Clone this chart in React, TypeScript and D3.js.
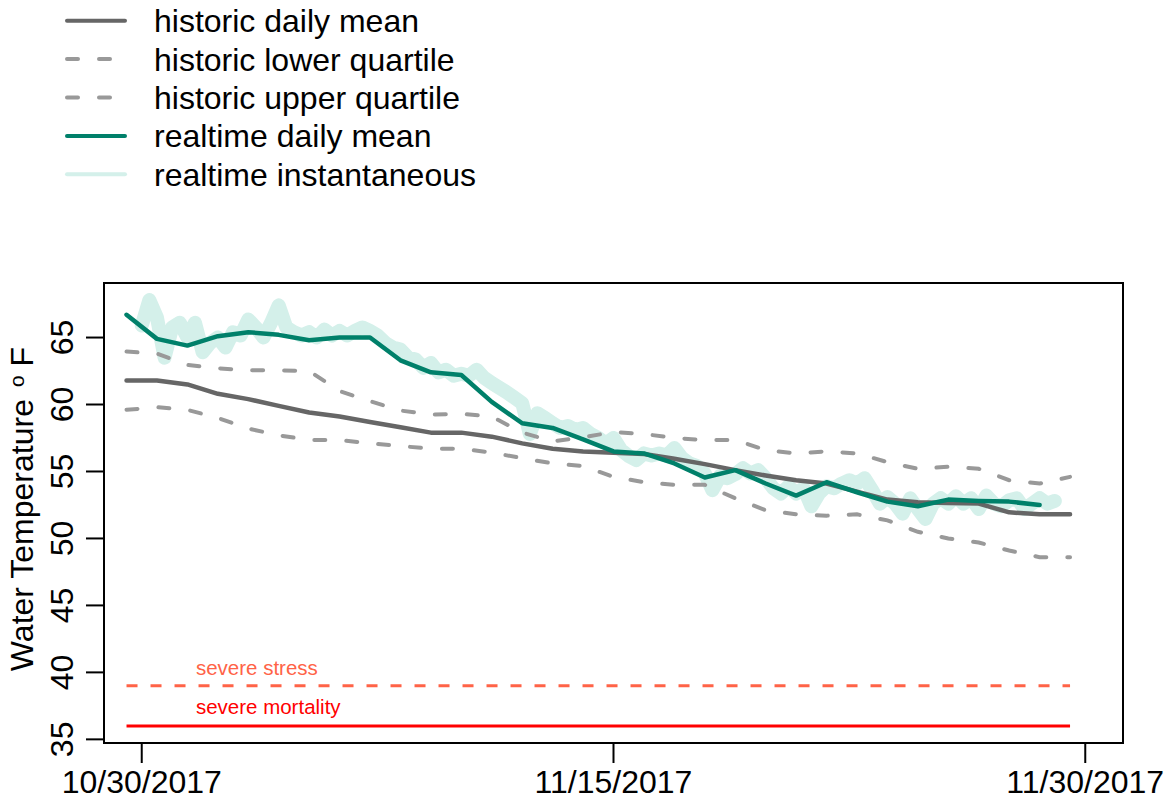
import React from "react";
import * as d3 from "d3";

// ---- data (day index: 0 = first historic day) ----
const historicMean = [61.8, 61.8, 61.5, 60.8, 60.4, 59.9, 59.4, 59.1, 58.7, 58.3, 57.9, 57.9, 57.6, 57.1, 56.7, 56.5, 56.4, 56.3, 55.95, 55.55, 55.1, 54.7, 54.35, 54.1, 53.5, 52.9, 52.7, 52.65, 52.6, 51.95, 51.8, 51.8];
const historicLower = [59.6, 59.8, 59.6, 59.0, 58.2, 57.7, 57.35, 57.35, 57.1, 56.9, 56.7, 56.7, 56.4, 56.0, 55.6, 55.4, 54.6, 54.2, 54.0, 54.0, 53.0, 52.1, 51.8, 51.7, 51.8, 51.35, 50.5, 50.0, 49.7, 49.1, 48.6, 48.6];
const historicUpper = [63.95, 63.8, 62.95, 62.7, 62.55, 62.55, 62.5, 61.0, 60.25, 59.55, 59.25, 59.3, 59.1, 57.9, 57.25, 57.55, 57.95, 57.8, 57.5, 57.35, 57.35, 56.6, 56.35, 56.5, 56.35, 55.7, 55.2, 55.35, 55.2, 54.35, 54.1, 54.6];
const realtimeMean = [66.7, 64.9, 64.4, 65.1, 65.4, 65.2, 64.8, 65.0, 65.0, 63.3, 62.4, 62.2, 60.2, 58.6, 58.25, 57.4, 56.5, 56.35, 55.6, 54.55, 55.1, 54.1, 53.2, 54.2, 53.45, 52.75, 52.4, 52.9, 52.8, 52.75, 52.5];
// instantaneous readings every 6 hours starting at day 0.5
const instStart = 0.5;
const instStep = 0.25;
const realtimeInst = [
  65.9, 67.8, 66.5, 63.5, 65.75, 66.1, 65.0, 66.1, 63.9, 64.6,
  65.0, 64.25, 65.4, 65.15, 66.35, 65.75, 65.0, 66.1, 67.4, 65.75,
  65.4, 65.15, 65.4, 65.0, 65.6, 65.15, 65.5, 65.15, 65.5, 65.75,
  65.5, 65.15, 64.6, 64.25, 64.1, 63.5, 63.35, 62.75, 63.1, 62.4,
  62.6, 62.15, 62.3, 62.15, 62.6, 62.0, 61.6, 61.25, 60.9, 60.5,
  60.1, 57.8, 59.35, 59.0, 58.6, 58.25, 58.4, 58.1, 58.25, 57.8,
  57.5, 57.1, 57.5, 56.6, 56.15, 55.85, 56.35, 56.2, 56.35, 56.2,
  56.75, 56.0, 55.6, 55.4, 54.85, 53.6, 54.65, 54.5, 54.8, 55.25,
  54.85, 55.1, 54.5, 53.75, 53.35, 53.9, 53.35, 53.75, 52.4, 53.35,
  53.9, 53.75, 54.1, 54.35, 54.1, 54.5, 53.6, 52.6, 53.1, 52.6,
  51.85, 53.0, 52.2, 51.45, 52.6, 53.0, 52.6, 53.15, 52.6, 53.0,
  52.2, 53.2, 52.6, 52.4, 52.85, 53.0, 52.2, 52.6, 53.0, 52.6, 52.8,
];
const severeStress = 39;
const severeMortality = 36;
const xTickValues = [0.5, 16, 31.5];
const xTickLabels = ["10/30/2017", "11/15/2017", "11/30/2017"];
const yTickValues = [35, 40, 45, 50, 55, 60, 65];
const legendLabels = [
  "historic daily mean",
  "historic lower quartile",
  "historic upper quartile",
  "realtime daily mean",
  "realtime instantaneous",
];

const FONT = "'Liberation Sans', Arial, Helvetica, sans-serif";
const C_MEAN = "#666666";
const C_QUART = "#999999";
const C_RT = "#00806a";
const C_INST = "#d4f0ea";
const C_STRESS = "#ff6347";
const C_MORT = "#ff0000";
const FS = 32;

export default function App() {
  const left = 104, right = 1123, top = 283, bottom = 743;
  const xr: [number, number] = [xTickValues[0], xTickValues[xTickValues.length - 1]];
  const xpad = (xr[1] - xr[0]) * 0.04;
  const x = d3.scaleLinear().domain([xr[0] - xpad, xr[1] + xpad]).range([left, right]);
  const yr: [number, number] = [severeMortality, d3.max(realtimeInst) as number];
  const ypad = (yr[1] - yr[0]) * 0.04;
  const y = d3.scaleLinear().domain([yr[0] - ypad, yr[1] + ypad]).range([bottom, top]);

  const dayLine = d3
    .line<number>()
    .x((_, i) => x(i))
    .y((v) => y(v));
  const instLine = d3
    .line<number>()
    .x((_, i) => x(instStart + i * instStep))
    .y((v) => y(v));

  const lastDay = historicMean.length - 1;

  const legendStyles = [
    { stroke: C_MEAN, dash: undefined as string | undefined, w: 4 },
    { stroke: C_QUART, dash: "11 21", w: 4 },
    { stroke: C_QUART, dash: "11 21", w: 4 },
    { stroke: C_RT, dash: undefined, w: 4 },
    { stroke: C_INST, dash: undefined, w: 4 },
  ];

  return (
    <svg
      width={1169}
      height={800}
      style={{ position: "absolute", left: 0, top: 0, background: "#fff" }}
      fontFamily={FONT}
    >
      <rect x={0} y={0} width={1169} height={800} fill="#fff" />
      {/* legend */}
      {legendLabels.map((lab, i) => {
        const ly = 20.7 + i * 38.4;
        const s = legendStyles[i];
        return (
          <g key={lab}>
            <line
              x1={67}
              x2={125}
              y1={ly}
              y2={ly}
              stroke={s.stroke}
              strokeWidth={s.w}
              strokeDasharray={s.dash}
              strokeLinecap="round"
            />
            <text x={154} y={ly + 11.5} fontSize={FS} fill="#000">
              {lab}
            </text>
          </g>
        );
      })}

      {/* instantaneous */}
      <path
        d={instLine(realtimeInst) || ""}
        fill="none"
        stroke={C_INST}
        strokeWidth={14}
        strokeLinejoin="round"
        strokeLinecap="round"
      />
      {/* historic quartiles */}
      <path d={dayLine(historicUpper) || ""} fill="none" stroke={C_QUART} strokeWidth={4} strokeDasharray="11 21" strokeLinecap="round" />
      <path d={dayLine(historicLower) || ""} fill="none" stroke={C_QUART} strokeWidth={4} strokeDasharray="11 21" strokeLinecap="round" />
      {/* historic mean */}
      <path d={dayLine(historicMean) || ""} fill="none" stroke={C_MEAN} strokeWidth={4.5} strokeLinejoin="round" strokeLinecap="round" />
      {/* realtime mean */}
      <path d={dayLine(realtimeMean) || ""} fill="none" stroke={C_RT} strokeWidth={4.5} strokeLinejoin="round" strokeLinecap="round" />

      {/* thresholds */}
      <line x1={x(0)} x2={x(lastDay)} y1={y(severeStress)} y2={y(severeStress)} stroke={C_STRESS} strokeWidth={3} strokeDasharray="11 13" />
      <line x1={x(0)} x2={x(lastDay)} y1={y(severeMortality)} y2={y(severeMortality)} stroke={C_MORT} strokeWidth={3} />
      <text x={x(2.28)} y={y(severeStress) - 11} fontSize={20.5} fill={C_STRESS}>
        severe stress
      </text>
      <text x={x(2.28)} y={y(severeMortality) - 12} fontSize={20.5} fill={C_MORT}>
        severe mortality
      </text>

      {/* box */}
      <rect x={left} y={top} width={right - left} height={bottom - top} fill="none" stroke="#000" strokeWidth={2} />

      {/* y axis */}
      {yTickValues.map((v) => (
        <g key={v}>
          <line x1={86} x2={left} y1={y(v)} y2={y(v)} stroke="#000" strokeWidth={2} />
          <text
            transform={`translate(73,${y(v)}) rotate(-90)`}
            textAnchor="middle"
            fontSize={FS}
            fill="#000"
          >
            {v}
          </text>
        </g>
      ))}
      <text transform={`translate(33,${(top + bottom) / 2 - 4}) rotate(-90)`} textAnchor="middle" fontSize={FS} fill="#000">
        <tspan>Water Temperature</tspan>
        <tspan fontSize={21} dx={12} dy={-9}>o</tspan>
        <tspan dx={9} dy={9}>F</tspan>
      </text>

      {/* x axis */}
      {xTickValues.map((v, i) => (
        <g key={v}>
          <line x1={x(v)} x2={x(v)} y1={bottom} y2={763} stroke="#000" strokeWidth={2} />
          <text x={x(v)} y={793} textAnchor="middle" fontSize={FS} fill="#000">
            {xTickLabels[i]}
          </text>
        </g>
      ))}
    </svg>
  );
}
